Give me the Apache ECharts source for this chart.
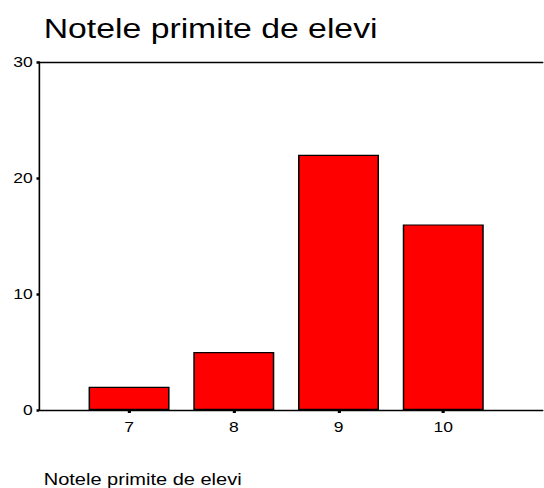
<!DOCTYPE html>
<html>
<head>
<meta charset="utf-8">
<script src="https://cdn.jsdelivr.net/npm/echarts@6/dist/echarts.min.js"></script>
<style>
html,body{margin:0;padding:0;background:#fff;overflow:hidden;}
#chart{width:435.2px;height:488px;transform:scaleX(1.25);transform-origin:0 0;}
</style>
</head>
<body>
<div id="chart"></div>
<script>
const titleText = "Notele primite de elevi";
const axisTitle = "Notele primite de elevi";
const grades = [7, 8, 9, 10];
const counts = [2, 5, 22, 16];
const yTicks = [0, 10, 20, 30];

const chart = echarts.init(document.getElementById('chart'), null, {renderer: 'svg'});
const font = 'Liberation Sans, Arial, sans-serif';
chart.setOption({
  animation: false,
  backgroundColor: '#fff',
  title: [
    {text: titleText, left: 30, top: 10, textStyle: {fontFamily: font, fontSize: 27, fontWeight: 'normal', color: '#000'}},
    {text: axisTitle, left: 30, top: 467, textStyle: {fontFamily: font, fontSize: 16, fontWeight: 'normal', color: '#000'}}
  ],
  grid: {left: 31.2, right: 0.8, top: 62, bottom: 78},
  xAxis: [{
    type: 'value', min: 6.14, max: 10.95,
    axisLine: {show: true, onZero: false, lineStyle: {color: '#000', width: 1.3}},
    axisTick: {show: true, customValues: grades, length: 3, inside: false, lineStyle: {color: '#000', width: 2.5}},
    axisLabel: {customValues: grades, margin: 10, fontFamily: font, fontSize: 14, color: '#000'},
    splitLine: {show: false}
  }, {
    type: 'value', position: 'top', min: 6.14, max: 10.95,
    axisLine: {show: true, onZero: false, lineStyle: {color: '#000', width: 1.3}},
    axisTick: {show: false}, axisLabel: {show: false}, splitLine: {show: false}
  }],
  yAxis: {
    type: 'value', min: yTicks[0], max: yTicks[yTicks.length - 1], interval: 10,
    axisLine: {show: true, lineStyle: {color: '#000', width: 1.3}},
    axisTick: {show: true, length: 2, lineStyle: {color: '#000', width: 2.5}},
    axisLabel: {margin: 5, fontFamily: font, fontSize: 14, color: '#000'},
    splitLine: {show: false}
  },
  series: [{
    type: 'bar',
    xAxisIndex: 0,
    barWidth: 64.8,
    data: grades.map((g, i) => [g, counts[i]]),
    itemStyle: {color: '#ff0000', borderColor: '#000', borderWidth: 1.2}
  }]
});
</script>
</body>
</html>
